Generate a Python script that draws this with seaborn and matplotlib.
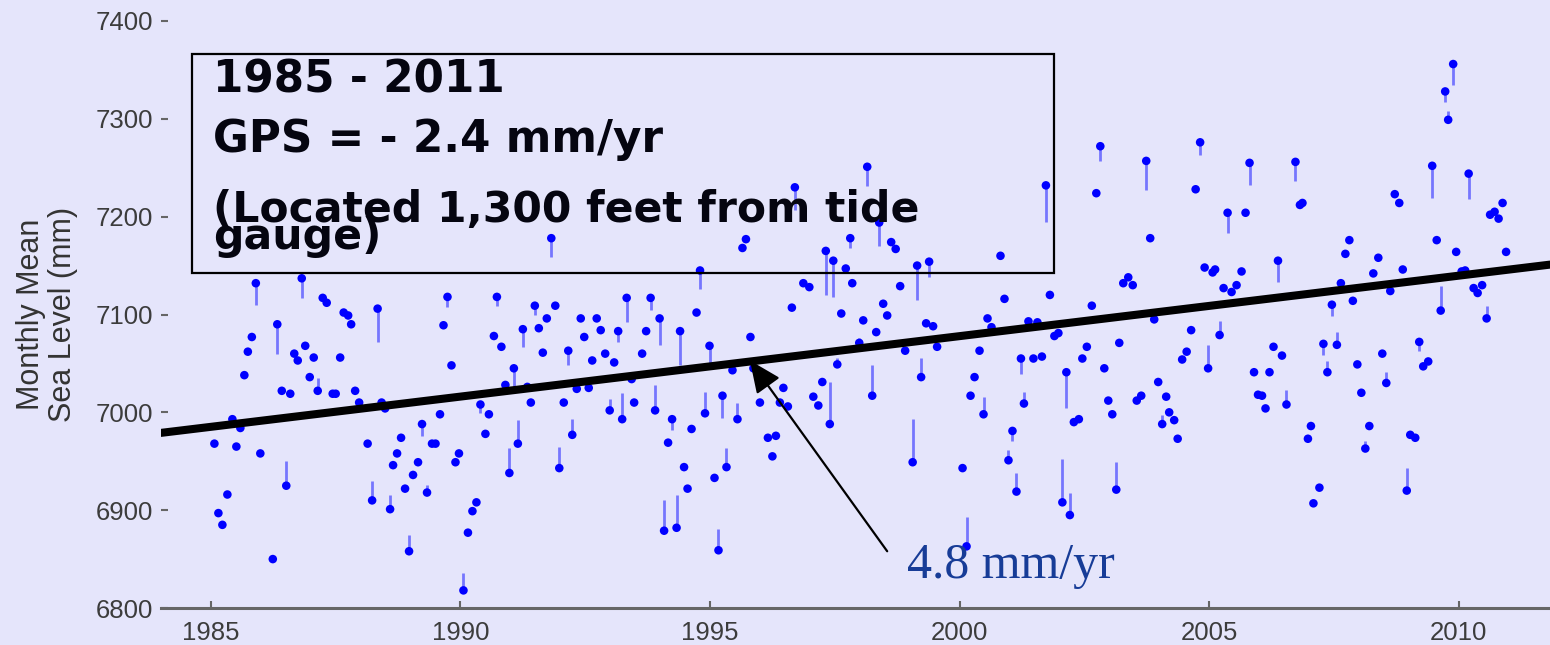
import numpy as np
import pandas as pd
import matplotlib
matplotlib.use("Agg")
import matplotlib.pyplot as plt
import seaborn as sns
from matplotlib.patches import Rectangle

# ---------------- data ----------------
months = [
    1985.07, 1985.15, 1985.23, 1985.33, 1985.43, 1985.51, 1985.59, 1985.67, 1985.74, 1985.82,
    1985.90, 1985.99, 1986.24, 1986.33, 1986.42, 1986.51, 1986.59, 1986.67, 1986.74, 1986.82,
    1986.89, 1986.98, 1987.06, 1987.14, 1987.24, 1987.32, 1987.44, 1987.50, 1987.59, 1987.66,
    1987.75, 1987.81, 1987.89, 1987.97, 1988.14, 1988.23, 1988.34, 1988.42, 1988.49, 1988.59,
    1988.65, 1988.73, 1988.81, 1988.89, 1988.97, 1989.05, 1989.15, 1989.23, 1989.33, 1989.43,
    1989.50, 1989.59, 1989.66, 1989.74, 1989.82, 1989.90, 1989.97, 1990.06, 1990.15, 1990.24,
    1990.32, 1990.40, 1990.50, 1990.57, 1990.67, 1990.73, 1990.82, 1990.90, 1990.98, 1991.07,
    1991.15, 1991.25, 1991.34, 1991.41, 1991.49, 1991.57, 1991.65, 1991.73, 1991.82, 1991.90,
    1991.98, 1992.07, 1992.16, 1992.24, 1992.33, 1992.41, 1992.48, 1992.57, 1992.64, 1992.73,
    1992.81, 1992.90, 1992.99, 1993.08, 1993.16, 1993.24, 1993.33, 1993.43, 1993.48, 1993.64,
    1993.72, 1993.81, 1993.90, 1993.99, 1994.08, 1994.16, 1994.24, 1994.33, 1994.40, 1994.48,
    1994.55, 1994.63, 1994.73, 1994.80, 1994.90, 1994.99, 1995.09, 1995.17, 1995.25, 1995.33,
    1995.45, 1995.55, 1995.65, 1995.72, 1995.81, 1995.87, 1996.00, 1996.16, 1996.25, 1996.32,
    1996.40, 1996.47, 1996.56, 1996.64, 1996.70, 1996.87, 1996.99, 1997.07, 1997.17, 1997.25,
    1997.32, 1997.40, 1997.47, 1997.55, 1997.63, 1997.72, 1997.81, 1997.85, 1997.99, 1998.07,
    1998.15, 1998.25, 1998.33, 1998.39, 1998.47, 1998.55, 1998.63, 1998.72, 1998.81, 1998.91,
    1999.06, 1999.15, 1999.23, 1999.33, 1999.39, 1999.47, 1999.55, 2000.06, 2000.14, 2000.22,
    2000.30, 2000.40, 2000.48, 2000.56, 2000.64, 2000.82, 2000.90, 2000.98, 2001.06, 2001.14,
    2001.23, 2001.29, 2001.38, 2001.48, 2001.56, 2001.65, 2001.73, 2001.81, 2001.90, 2001.98,
    2002.06, 2002.14, 2002.21, 2002.29, 2002.39, 2002.46, 2002.55, 2002.65, 2002.74, 2002.82,
    2002.90, 2002.98, 2003.06, 2003.14, 2003.20, 2003.28, 2003.38, 2003.47, 2003.55, 2003.64,
    2003.74, 2003.82, 2003.90, 2003.98, 2004.06, 2004.14, 2004.20, 2004.30, 2004.37, 2004.46,
    2004.55, 2004.64, 2004.73, 2004.82, 2004.91, 2004.98, 2005.07, 2005.12, 2005.21, 2005.29,
    2005.37, 2005.45, 2005.55, 2005.65, 2005.73, 2005.81, 2005.90, 2005.98, 2006.06, 2006.13,
    2006.21, 2006.29, 2006.38, 2006.46, 2006.55, 2006.73, 2006.82, 2006.87, 2006.98, 2007.04,
    2007.09, 2007.21, 2007.29, 2007.37, 2007.46, 2007.56, 2007.64, 2007.73, 2007.81, 2007.88,
    2007.97, 2008.05, 2008.13, 2008.21, 2008.29, 2008.39, 2008.47, 2008.55, 2008.63, 2008.72,
    2008.81, 2008.88, 2008.96, 2009.03, 2009.13, 2009.21, 2009.29, 2009.39, 2009.47, 2009.56,
    2009.64, 2009.73, 2009.79, 2009.89, 2009.95, 2010.06, 2010.13, 2010.20, 2010.30, 2010.38,
    2010.47, 2010.56, 2010.63, 2010.72, 2010.80, 2010.88, 2010.95,
]

sea_level_mm = [
    6968, 6897, 6885, 6916, 6993, 6965, 6984, 7038, 7062, 7077,
    7132, 6958, 6850, 7090, 7022, 6925, 7019, 7060, 7053, 7137,
    7068, 7036, 7056, 7022, 7117, 7112, 7019, 7019, 7056, 7102,
    7099, 7090, 7022, 7010, 6968, 6910, 7106, 7010, 7004, 6901,
    6946, 6958, 6974, 6922, 6858, 6936, 6949, 6988, 6918, 6968,
    6968, 6998, 7089, 7118, 7048, 6949, 6958, 6818, 6877, 6899,
    6908, 7008, 6978, 6998, 7078, 7118, 7067, 7028, 6938, 7045,
    6968, 7085, 7026, 7010, 7109, 7086, 7061, 7096, 7178, 7109,
    6943, 7010, 7063, 6977, 7024, 7096, 7077, 7025, 7053, 7096,
    7084, 7060, 7002, 7051, 7083, 6993, 7117, 7034, 7010, 7060,
    7083, 7117, 7002, 7096, 6879, 6969, 6993, 6882, 7083, 6944,
    6922, 6983, 7102, 7145, 6999, 7068, 6933, 6859, 7017, 6944,
    7043, 6993, 7168, 7177, 7077, 7045, 7010, 6974, 6955, 6976,
    7010, 7025, 7006, 7107, 7230, 7132, 7128, 7016, 7007, 7031,
    7165, 6988, 7155, 7049, 7101, 7147, 7178, 7132, 7071, 7094,
    7251, 7017, 7082, 7194, 7111, 7099, 7174, 7167, 7129, 7063,
    6949, 7150, 7036, 7091, 7154, 7088, 7067, 6943, 6863, 7017,
    7036, 7063, 6998, 7096, 7087, 7160, 7116, 6951, 6981, 6919,
    7055, 7009, 7093, 7055, 7092, 7057, 7232, 7120, 7078, 7081,
    6908, 7041, 6895, 6990, 6993, 7055, 7067, 7109, 7224, 7272,
    7045, 7012, 6998, 6921, 7071, 7132, 7138, 7130, 7012, 7017,
    7257, 7178, 7095, 7031, 6988, 7016, 7000, 6992, 6973, 7054,
    7062, 7084, 7228, 7276, 7148, 7045, 7143, 7146, 7079, 7127,
    7204, 7123, 7130, 7144, 7204, 7255, 7041, 7018, 7017, 7004,
    7041, 7067, 7155, 7058, 7008, 7256, 7212, 7214, 6973, 6986,
    6907, 6923, 7070, 7041, 7110, 7069, 7132, 7162, 7176, 7114,
    7049, 7020, 6963, 6986, 7142, 7158, 7060, 7030, 7124, 7223,
    7214, 7146, 6920, 6977, 6974, 7072, 7047, 7052, 7252, 7176,
    7104, 7328, 7299, 7356, 7164, 7144, 7145, 7244, 7127, 7122,
    7130, 7096, 7202, 7205, 7198, 7214, 7164,
]

# vertical stem attached to each monthly value (mm, + up / - down)
stem_mm = [
    0, 0, 0, 0, 0, 0, 0, 0, 0, 0,
    -22, 0, 0, -30, 0, 25, 0, 0, 0, -20,
    0, 0, 0, 13, 0, 0, 0, 0, 0, 0,
    0, 0, 0, 0, 0, 20, -34, 0, 0, 15,
    0, 0, 0, 0, 17, 0, 0, -12, 8, 0,
    0, 0, 0, -10, 0, 0, 0, 18, 0, 0,
    0, -9, 0, 0, 0, -9, 0, 0, 26, -19,
    24, -18, 0, 0, -9, 0, 0, 0, -19, 0,
    22, 0, -15, 16, 0, 0, 0, 0, 0, 0,
    0, 0, 12, 0, -11, 27, -25, 0, 0, 0,
    0, -12, 26, -27, 31, 0, -11, 33, -35, 0,
    0, 0, 0, -19, 22, -18, 0, 22, -23, 20,
    0, 17, 0, 0, 0, 0, 0, 0, 0, 0,
    0, 0, 0, 0, -23, 0, 0, 0, 0, 0,
    -45, 43, -37, 7, 0, 0, -10, 0, 5, 0,
    -20, 31, 0, -24, 0, 0, 0, 0, 0, 0,
    44, -35, 20, 0, -16, 0, 0, 0, 30, 0,
    0, 0, 18, 0, 0, 0, 0, 11, -10, 19,
    -16, 12, 0, 0, 0, 0, -37, 0, 0, 0,
    44, -37, 23, 0, 0, 0, 0, 0, 0, -15,
    0, 0, 0, 28, 0, 0, 0, 0, 0, 0,
    -30, 0, 0, 0, 9, 0, 0, 0, 0, 0,
    0, 0, 0, -13, 0, 24, 0, 0, 14, 0,
    -21, 0, 0, 0, 0, -23, 0, 0, 0, 0,
    0, 0, -22, 0, 15, -20, 0, 0, 0, 0,
    0, 0, -11, 11, -12, 13, 0, 0, 0, 0,
    0, 0, 8, 0, 0, 0, 0, 11, 0, 0,
    0, 0, 23, 0, 0, -9, 0, 0, -33, 0,
    25, -11, 9, -21, 0, 0, 0, -26, 0, 0,
    0, 13, 0, 0, 0, 0, 0,
]

trend_start_year = 1984.0
trend_start_mm = 6979.0
trend_slope_mm_per_yr = 6.18

y_ticks = [6800, 6900, 7000, 7100, 7200, 7300, 7400]
x_ticks = [1985, 1990, 1995, 2000, 2005, 2010]

box_lines = ["1985 - 2011", "GPS = - 2.4 mm/yr", "(Located 1,300 feet from tide", "gauge)"]
rate_label = "4.8 mm/yr"
y_label = "Monthly Mean\nSea Level (mm)"

# ---------------- style ----------------
BG = "#E5E5FB"
sns.set_theme(style="white", rc={"axes.facecolor": BG, "figure.facecolor": BG})
plt.rcParams["font.family"] = ["Liberation Sans", "DejaVu Sans"]

df = pd.DataFrame({"year": months, "level": sea_level_mm, "stem": stem_mm})

fig = plt.figure(figsize=(15.5, 6.45), dpi=100)
ax = fig.add_axes([161 / 1550, 37 / 645, 1389 / 1550, 587 / 645])

# stems
st = df[df["stem"] != 0]
ax.vlines(st["year"], st["level"], st["level"] + st["stem"], colors="#5A5AFF",
          alpha=0.8, linewidth=2.0, zorder=2)

# monthly points
sns.scatterplot(data=df, x="year", y="level", ax=ax, color="#0000FF", s=38,
                edgecolor="none", linewidth=0, zorder=3, legend=False)

ax.set_xlim(1984.0, 2011.83)
ax.set_ylim(6800, 7400)

# trend line
tx = np.array(ax.get_xlim())
ty = trend_start_mm + trend_slope_mm_per_yr * (tx - trend_start_year)
sns.lineplot(x=tx, y=ty, ax=ax, color="black", linewidth=5.8, zorder=4)

# axes cosmetics
for s in ["left", "top", "right"]:
    ax.spines[s].set_visible(False)
ax.spines["bottom"].set_color("#666666")
ax.spines["bottom"].set_linewidth(2.2)
ax.set_yticks(y_ticks)
ax.set_xticks(x_ticks)
ax.tick_params(axis="both", direction="in", length=5, width=1.5, color="#666666",
               labelsize=18.5, labelcolor="#3C3C3C")
ax.tick_params(axis="y", pad=6, left=True)
ax.tick_params(axis="x", pad=9, bottom=True)
ax.set_xlabel("")
ax.set_ylabel(y_label, fontsize=22, color="#333333", labelpad=12, linespacing=1.1)

# text box
ax.add_patch(Rectangle((0.0221, 0.5707), 0.6208, 0.3723, transform=ax.transAxes,
                       facecolor="none", edgecolor="black", linewidth=1.6, zorder=5))
baselines = [0.879, 0.777, 0.658, 0.611]
sizes = [31.5, 31.5, 30.6, 30.6]
for txt, yb, fs in zip(box_lines, baselines, sizes):
    ax.text(0.0374, yb, txt, transform=ax.transAxes, fontsize=fs, fontweight="bold",
            family=["DejaVu Sans"], color="#050510", ha="left", va="baseline", zorder=6)

# rate annotation
ax.annotate("", xy=(1995.80, 7053), xytext=(1998.55, 6858),
            arrowprops=dict(arrowstyle="-|>,head_length=0.9,head_width=0.4",
                            color="black", lw=1.6, mutation_scale=22,
                            shrinkA=0, shrinkB=0), zorder=6)
ax.text(1998.95, 6831, rate_label, fontsize=36, family=["Liberation Serif", "DejaVu Serif"],
        color="#173C97", ha="left", va="baseline", zorder=6)

fig.savefig("out.png", dpi=100, facecolor=BG)
